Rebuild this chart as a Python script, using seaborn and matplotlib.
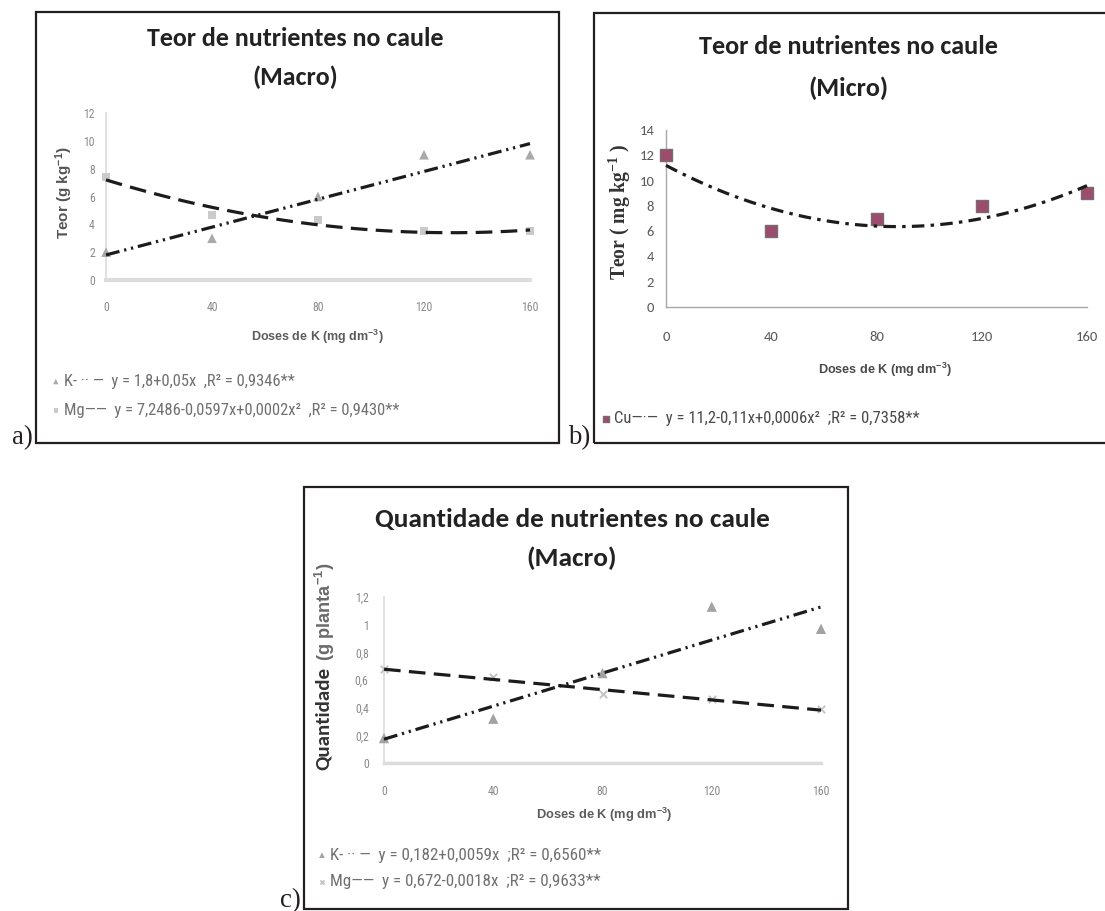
import matplotlib
matplotlib.use("Agg")
import numpy as np
import pandas as pd
import seaborn as sns
import matplotlib.pyplot as plt
from matplotlib.patches import Rectangle
from matplotlib import font_manager

# ---------------- data ----------------
doses = [0, 40, 80, 120, 160]
xtick_labels = ["0", "40", "80", "120", "160"]

teor_macro_k = [2.0, 3.0, 6.0, 9.0, 9.0]
teor_macro_mg = [7.4, 4.7, 4.3, 3.5, 3.5]
teor_micro_cu = [12.0, 6.0, 7.0, 8.0, 9.0]
quant_macro_k = [0.18, 0.32, 0.65, 1.13, 0.97]
quant_macro_mg = [0.68, 0.62, 0.50, 0.46, 0.39]

yticks_a = [0, 2, 4, 6, 8, 10, 12]
yticks_b = [0, 2, 4, 6, 8, 10, 12, 14]
yticks_c = [0, 0.2, 0.4, 0.6, 0.8, 1.0, 1.2]
ylabels_c = ["0", "0,2", "0,4", "0,6", "0,8", "1", "1,2"]

title_a = ["Teor de nutrientes no caule", "(Macro)"]
title_b = ["Teor de nutrientes no caule", "(Micro)"]
title_c = ["Quantidade de nutrientes no caule", "(Macro)"]
xlabel_txt = "Doses de K (mg dm$^{-3}$)"
ylabel_a = "Teor (g kg$^{-1}$)"
ylabel_b = "Teor ( mg kg$^{-1}$ )"
ylabel_c = ["Quantidade", "(g planta$^{-1}$)"]
legend_a = ["K- \u00b7\u00b7 \u2014  y = 1,8+0,05x  ,R\u00b2 = 0,9346**",
            "Mg\u2014\u2014  y = 7,2486-0,0597x+0,0002x\u00b2  ,R\u00b2 = 0,9430**"]
legend_b = ["Cu\u2014\u00b7\u2014  y = 11,2-0,11x+0,0006x\u00b2  ;R\u00b2 = 0,7358**"]
legend_c = ["K- \u00b7\u00b7 \u2014  y = 0,182+0,0059x  ;R\u00b2 = 0,6560**",
            "Mg\u2014\u2014  y = 0,672-0,0018x  ;R\u00b2 = 0,9633**"]
panel_tags = ["a)", "b)", "c)"]

# ---------------- style ----------------
sns.set_theme(style="white")
avail = {f.name for f in font_manager.fontManager.ttflist}


def pick(*names):
    for n in names:
        if n in avail:
            return n
    return "DejaVu Sans"


TITLE_FONT = pick("Carlito", "Lato", "Open Sans")
NARROW = pick("Liberation Sans Narrow", "Roboto Condensed", "Liberation Sans")
SANS = pick("Liberation Sans", "DejaVu Sans")
SERIF = pick("Liberation Serif", "DejaVu Serif")
plt.rcParams["font.family"] = [SANS, "DejaVu Sans"]
plt.rcParams["lines.scale_dashes"] = False
plt.rcParams["mathtext.default"] = "regular"

W, H = 1105, 911
fig = plt.figure(figsize=(W / 100, H / 100), dpi=100)
fig.patch.set_facecolor("white")
renderer = fig.canvas.get_renderer()


def fx(x):
    return x / W


def fy(y):
    return 1 - y / H


def px_rect(x0, x1, y0, y1):
    return [x0 / W, 1 - y1 / H, (x1 - x0) / W, (y1 - y0) / H]


def measure(s, size, rotation=0, **kw):
    t = fig.text(0, 0, s, fontsize=size, rotation=rotation, **kw)
    bb = t.get_window_extent(renderer)
    t.remove()
    return bb.width, bb.height


def fit_size(s, length, rotation=0, **kw):
    w, h = measure(s, 10, rotation=rotation, **kw)
    L = w if rotation == 0 else h
    return 10 * length / L


def fitted_text(s, cx, cy, length, rotation=0, **kw):
    size = fit_size(s, length, rotation=rotation, **kw)
    return fig.text(fx(cx), fy(cy), s, fontsize=size, rotation=rotation,
                    ha="center", va="center", **kw)


LINE = "#1c1c1c"
K_DASH = [10, 3.5, 1.6, 3.5, 1.6, 3.5]
MG_DASH = [12, 6]
CU_DASH = [9, 4.5, 2.5, 4.5]


def style_axes(ax, xlim, ylim, yticks, yticklabels, tick_color, tick_size,
               tick_family, xpad, ypad, spine_color, spine_lw, xspine_lw):
    ax.set_xlim(*xlim)
    ax.set_ylim(*ylim)
    ax.set_xticks(doses)
    ax.set_xticklabels(xtick_labels)
    ax.set_yticks(yticks)
    ax.set_yticklabels(yticklabels)
    ax.set_xlabel("")
    ax.set_ylabel("")
    ax.set_facecolor("none")
    sns.despine(ax=ax)
    ax.spines["left"].set_color(spine_color)
    ax.spines["left"].set_linewidth(spine_lw)
    ax.spines["bottom"].set_color(spine_color)
    ax.spines["bottom"].set_linewidth(xspine_lw)
    ax.tick_params(axis="x", length=0, pad=xpad, labelsize=tick_size, labelcolor=tick_color)
    ax.tick_params(axis="y", length=0, pad=ypad, labelsize=tick_size, labelcolor=tick_color)
    for lab in ax.get_xticklabels() + ax.get_yticklabels():
        lab.set_fontfamily(tick_family)
    ax.grid(False)


def add_legend(ax, labels, left_px, center_px, pitch_px, text_width_px, color, family):
    handles = list(ax.collections)
    longest = max(labels, key=lambda s: measure(s, 10, family=family)[0])
    size = fit_size(longest, text_width_px, family=family)
    size_px = size * 100 / 72
    spacing = max(pitch_px / size_px - 0.9, 0.0)
    leg = ax.legend(handles, labels, loc="center left",
                    bbox_to_anchor=(fx(left_px), fy(center_px)),
                    bbox_transform=fig.transFigure, frameon=False,
                    handlelength=0.7, handletextpad=0.15, borderpad=0,
                    borderaxespad=0, labelspacing=spacing, markerscale=0.55,
                    prop={"family": family, "size": size})
    for t in leg.get_texts():
        t.set_color(color)
    return leg


# ---------------- panel a ----------------
ax_a = fig.add_axes(px_rect(106, 530, 113, 280))
sns.scatterplot(x=doses, y=teor_macro_k, marker="^", s=48, color="#a9a9a9",
                edgecolor="none", ax=ax_a, clip_on=False, zorder=3)
sns.scatterplot(x=doses, y=teor_macro_mg, marker="s", s=34, color="#cacaca",
                edgecolor="none", ax=ax_a, clip_on=False, zorder=3)
sns.regplot(x=doses, y=teor_macro_k, order=1, ci=None, scatter=False, ax=ax_a,
            line_kws=dict(color=LINE, lw=2.3, dashes=K_DASH, clip_on=False, zorder=4))
sns.regplot(x=doses, y=teor_macro_mg, order=2, ci=None, scatter=False, ax=ax_a,
            line_kws=dict(color=LINE, lw=2.3, dashes=MG_DASH, clip_on=False, zorder=4))
style_axes(ax_a, (0, 160), (0, 12), yticks_a, [str(v) for v in yticks_a],
           "#8a8a8a", 8.5, NARROW, 15, 8, "#dcdcdc", 1.2, 3.0)
add_legend(ax_a, legend_a, 50, 396, 29, 335, "#707070", NARROW)

# ---------------- panel b ----------------
ax_b = fig.add_axes(px_rect(666, 1087, 130, 307))
sns.scatterplot(x=doses, y=teor_micro_cu, marker="s", s=80, color="#9c4d6e",
                edgecolor="#7a6a72", linewidth=1.0, ax=ax_b, clip_on=False, zorder=3)
sns.regplot(x=doses, y=teor_micro_cu, order=2, ci=None, scatter=False, ax=ax_b,
            line_kws=dict(color=LINE, lw=2.3, dashes=CU_DASH, clip_on=False, zorder=4))
style_axes(ax_b, (0, 160), (0, 14), yticks_b, [str(v) for v in yticks_b],
           "#5a5a5a", 10.5, TITLE_FONT, 17, 8.5, "#a8a8a8", 1.0, 1.0)
add_legend(ax_b, legend_b, 600, 419, 0, 304, "#4a4a4a", NARROW)

# ---------------- panel c ----------------
ax_c = fig.add_axes(px_rect(384, 821, 597, 763))
sns.scatterplot(x=doses, y=quant_macro_k, marker="^", s=55, color="#a3a3a3",
                edgecolor="none", ax=ax_c, clip_on=False, zorder=3)
sns.scatterplot(x=doses, y=quant_macro_mg, marker="x", s=28, color="#c4c4c4",
                linewidth=1.4, ax=ax_c, clip_on=False, zorder=3)
sns.regplot(x=doses, y=quant_macro_k, order=1, ci=None, scatter=False, ax=ax_c,
            line_kws=dict(color=LINE, lw=2.3, dashes=K_DASH, clip_on=False, zorder=4))
sns.regplot(x=doses, y=quant_macro_mg, order=1, ci=None, scatter=False, ax=ax_c,
            line_kws=dict(color=LINE, lw=2.3, dashes=MG_DASH, clip_on=False, zorder=4))
style_axes(ax_c, (0, 160), (0, 1.2), yticks_c, ylabels_c,
           "#8a8a8a", 8.5, NARROW, 16, 11, "#dcdcdc", 1.2, 2.5)
add_legend(ax_c, legend_c, 316, 868.5, 27, 270, "#707070", NARROW)

# ---------------- titles and axis labels ----------------
tkw = dict(family=[TITLE_FONT, "DejaVu Sans"], fontweight="bold", color="#222222")
for (cx, y1, y2, lines, width) in [(295, 38, 77, title_a, 297),
                                   (848, 47, 88, title_b, 299),
                                   (572, 520, 558, title_c, 395)]:
    size = fit_size(lines[0], width, **tkw)
    fig.text(fx(cx), fy(y1), lines[0], fontsize=size, ha="center", va="center", **tkw)
    fig.text(fx(cx), fy(y2), lines[1], fontsize=size, ha="center", va="center", **tkw)

lkw = dict(family=[SANS, "DejaVu Sans"], fontweight="bold")
fitted_text(xlabel_txt, 317, 337, 132, color="#5c5c5c", **lkw)
fitted_text(xlabel_txt, 885, 370, 133, color="#4a4a4a", **lkw)
fitted_text(xlabel_txt, 604, 815, 136, color="#5c5c5c", **lkw)
fitted_text(ylabel_a, 64, 193, 93, rotation=90, color="#555555", **lkw)
fitted_text(ylabel_b, 620, 212, 137, rotation=90, color="#333333",
            family=[SERIF, "DejaVu Serif"], fontweight="bold")
fitted_text(ylabel_c[0], 323, 718, 103, rotation=90, color="#333333",
            family=[TITLE_FONT, "DejaVu Sans"], fontweight="bold")
fitted_text(ylabel_c[1], 325, 612, 99, rotation=90, color="#6a6a6a", **lkw)

# ---------------- frames and panel tags ----------------
for (x0, y0, x1, y1) in [(36, 12, 559, 443), (594, 13, 1112, 443), (304, 487, 848, 909)]:
    fig.patches.append(Rectangle((fx(x0), fy(y1)), (x1 - x0) / W, (y1 - y0) / H,
                                 transform=fig.transFigure, fill=False,
                                 edgecolor="#231f20", linewidth=1.6, zorder=10))

tag_size = fit_size("a)", 21, family=[SERIF])
for tag, x, y in zip(panel_tags, [12, 568, 280], [444, 444, 907]):
    fig.text(fx(x), fy(y), tag, fontsize=tag_size, family=[SERIF, "DejaVu Serif"],
             ha="left", va="baseline", color="#231f20")

fig.savefig("out.png", dpi=100, facecolor="white")
